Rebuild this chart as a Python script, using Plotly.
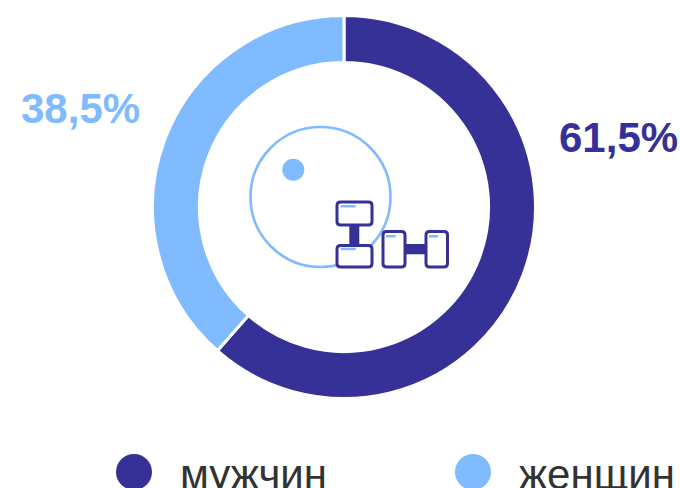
import plotly.graph_objects as go

W, H = 680, 488
categories = ["мужчин", "женщин"]
values = [61.5, 38.5]
value_labels = ["61,5%", "38,5%"]
DARK = "#363197"
LIGHT = "#80BBFF"
colors = [DARK, LIGHT]
FONT = "Liberation Sans"


def px(x):
    return x / W


def py(y):
    return 1 - y / H


def circle(cx, cy, r, **kw):
    return dict(type="circle", xref="paper", yref="paper", x0=px(cx - r), x1=px(cx + r),
                y0=py(cy + r), y1=py(cy - r), **kw)


def rect(x0, y0, x1, y1, **kw):
    return dict(type="rect", xref="paper", yref="paper", x0=px(x0), x1=px(x1),
                y0=py(y1), y1=py(y0), **kw)


def rrect(x0, y0, x1, y1, r=3.5, **kw):
    p = (f"M{px(x0 + r)},{py(y0)} L{px(x1 - r)},{py(y0)} Q{px(x1)},{py(y0)} {px(x1)},{py(y0 + r)} "
         f"L{px(x1)},{py(y1 - r)} Q{px(x1)},{py(y1)} {px(x1 - r)},{py(y1)} "
         f"L{px(x0 + r)},{py(y1)} Q{px(x0)},{py(y1)} {px(x0)},{py(y1 - r)} "
         f"L{px(x0)},{py(y0 + r)} Q{px(x0)},{py(y0)} {px(x0 + r)},{py(y0)} Z")
    return dict(type="path", xref="paper", yref="paper", path=p, **kw)


fig = go.Figure(go.Pie(
    labels=categories, values=values, sort=False, direction="clockwise", rotation=0,
    hole=0.755, textinfo="none", showlegend=False,
    marker=dict(colors=colors, line=dict(color="white", width=3)),
    domain=dict(x=[px(152.5), px(535.5)], y=[py(398.5), py(15.5)]),
))

line_dark = dict(color=DARK, width=3)
shapes = [
    circle(320.5, 197, 70, line=dict(color=LIGHT, width=2.6), fillcolor="rgba(0,0,0,0)"),
    circle(293.3, 169.7, 11, line=dict(width=0), fillcolor=LIGHT),
    # vertical dumbbell
    rect(349.3, 224, 359.3, 246, line=dict(width=0), fillcolor=DARK),
    rrect(337, 202, 372, 225, line=line_dark, fillcolor="white"),
    rrect(337, 245.5, 372, 267, line=line_dark, fillcolor="white"),
    rect(340.7, 205, 355.7, 207.5, line=dict(width=0), fillcolor=LIGHT),
    rect(340.7, 247.7, 355.7, 250.2, line=dict(width=0), fillcolor=LIGHT),
    # horizontal dumbbell
    rect(404, 244, 427, 254.3, line=dict(width=0), fillcolor=DARK),
    rrect(383, 231.5, 405, 267, line=line_dark, fillcolor="white"),
    rrect(426, 231.5, 447.5, 267, line=line_dark, fillcolor="white"),
    rect(386, 235, 395.7, 237.5, line=dict(width=0), fillcolor=LIGHT),
    rect(429, 235, 438, 237.5, line=dict(width=0), fillcolor=LIGHT),
    # legend markers
    circle(134, 472, 18, line=dict(width=0), fillcolor=DARK),
    circle(473, 472, 18, line=dict(width=0), fillcolor=LIGHT),
]


def label(x, y, text, size, color, bold=False):
    return dict(xref="paper", yref="paper", x=px(x), y=py(y), text=f"<b>{text}</b>" if bold else text,
                showarrow=False, xanchor="left", yanchor="middle", align="left",
                font=dict(family=FONT, size=size, color=color))


annotations = [
    label(557, 137, value_labels[0], 42, DARK, True),
    label(19, 108, value_labels[1], 42, LIGHT, True),
    label(178, 474, categories[0], 42, "#333333"),
    label(517, 474, categories[1], 42, "#333333"),
]

fig.update_layout(width=W, height=H, autosize=False, margin=dict(l=0, r=0, t=0, b=0),
                  paper_bgcolor="white", plot_bgcolor="white", shapes=shapes, annotations=annotations)
fig.write_html("out.html", config={"displayModeBar": False, "responsive": False},
               post_script="document.body.style.margin='0';document.documentElement.style.overflow='hidden';")
